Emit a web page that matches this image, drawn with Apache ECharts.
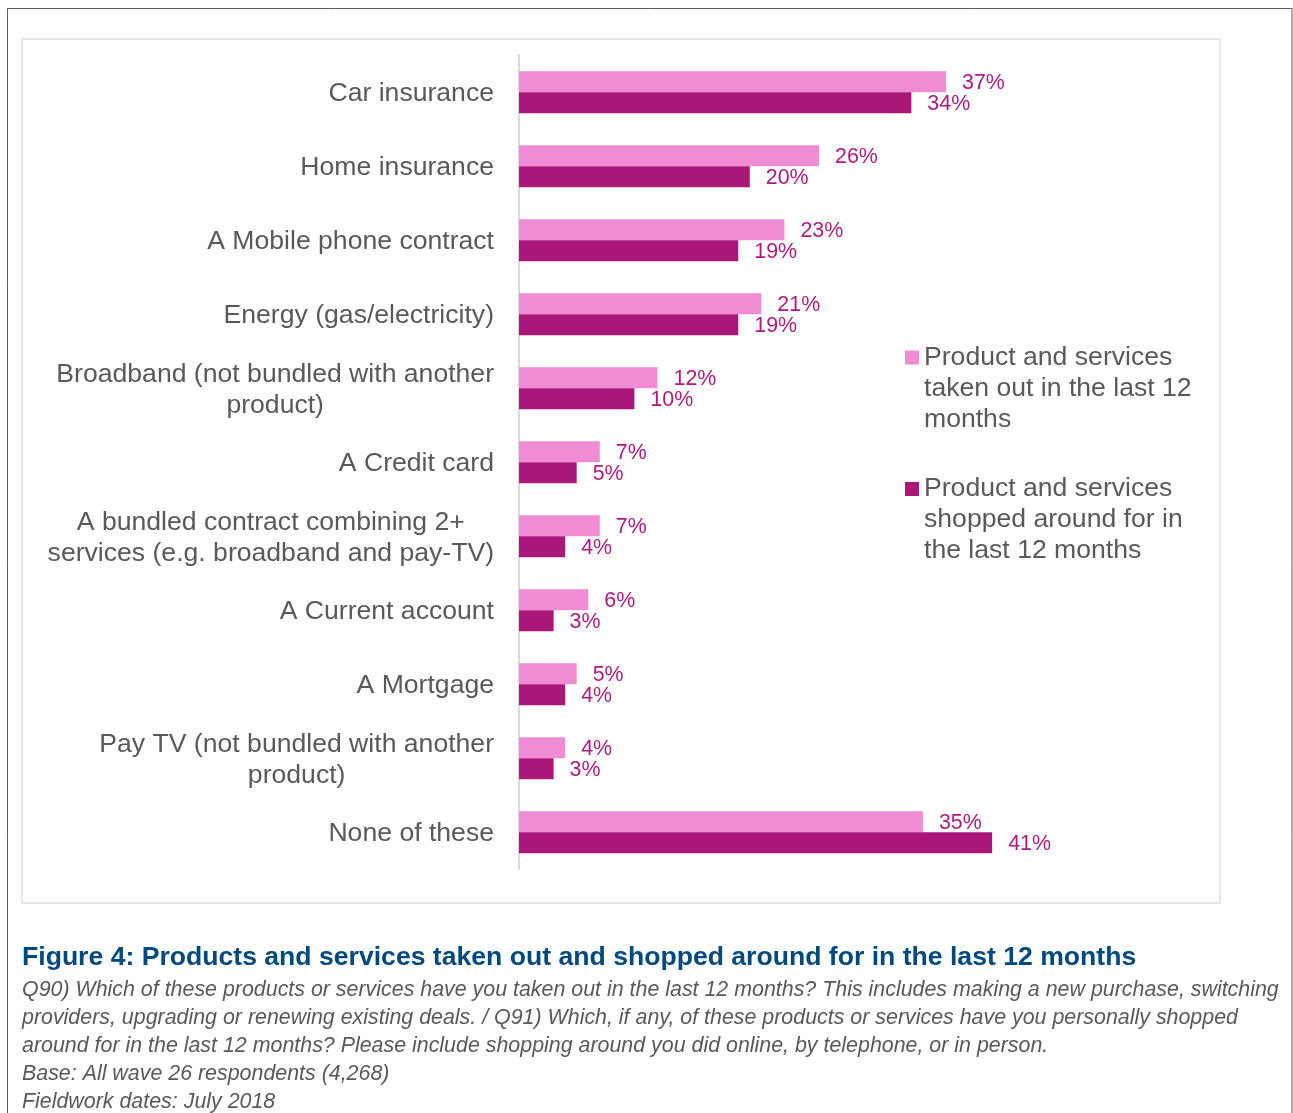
<!DOCTYPE html>
<html>
<head>
<meta charset="utf-8">
<script src="https://cdn.jsdelivr.net/npm/echarts@6/dist/echarts.min.js"></script>
<style>
  html, body { margin: 0; padding: 0; background: #ffffff; }
  #chart { width: 1293px; height: 1113px; }
</style>
</head>
<body>
<div id="chart"></div>
<script>
// Survey categories, top to bottom
const categories = [
  'Car insurance',
  'Home insurance',
  'A Mobile phone contract',
  'Energy (gas/electricity)',
  'Broadband (not bundled with another\nproduct)',
  'A Credit card',
  'A bundled contract combining 2+\nservices (e.g. broadband and pay-TV)',
  'A Current account',
  'A Mortgage',
  'Pay TV (not bundled with another\nproduct)',
  'None of these'
];

// Share of respondents (%)
const takenOut = [37, 26, 23, 21, 12, 7, 7, 6, 5, 4, 35];
const shoppedAround = [34, 20, 19, 19, 10, 5, 4, 3, 4, 3, 41];

const seriesNames = [
  'Product and services taken out in the last 12 months',
  'Product and services shopped around for in the last 12 months'
];
const legendLabels = [
  'Product and services\ntaken out in the last 12\nmonths',
  'Product and services\nshopped around for in\nthe last 12 months'
];

const figureTitle = 'Figure 4: Products and services taken out and shopped around for in the last 12 months';
const figureNotes = [
  'Q90) Which of these products or services have you taken out in the last 12 months? This includes making a new purchase, switching',
  'providers, upgrading or renewing existing deals. / Q91) Which, if any, of these products or services have you personally shopped',
  'around for in the last 12 months? Please include shopping around you did online, by telephone, or in person.',
  'Base: All wave 26 respondents (4,268)',
  'Fieldwork dates: July 2018'
];

const FONT = "'Liberation Sans', Arial, sans-serif";
const PINK = '#f08cd3';
const MAGENTA = '#ab1679';
const LABEL_COLOR = '#b0197e';
const TEXT_GREY = '#595959';

const chart = echarts.init(document.getElementById('chart'), null, { renderer: 'canvas' });

// Legend entries: the square sits beside the first text line, so the
// text block is padded with two blank lines above it (block is centred on the icon).
function legendFor(index, top) {
  return {
    data: [seriesNames[index]],
    orient: 'vertical',
    left: 905,
    top: top,
    padding: 0,
    icon: 'rect',
    itemWidth: 14,
    itemHeight: 14,
    selectedMode: false,
    formatter: () => '\n\n' + legendLabels[index],
    textStyle: {
      fontFamily: FONT,
      fontSize: 26.6,
      lineHeight: 31,
      color: TEXT_GREY
    }
  };
}

const barLabel = {
  show: true,
  position: 'right',
  distance: 16,
  offset: [0, 1.5],
  formatter: '{c}%',
  fontFamily: FONT,
  fontSize: 21.4,
  color: LABEL_COLOR
};

chart.setOption({
  animation: false,
  textStyle: { fontFamily: FONT },
  graphic: [
    {
      type: 'rect',
      shape: { x: 7.5, y: 8.5, width: 1284.5, height: 1130 },
      style: { fill: 'none', stroke: '#5a5a5a', lineWidth: 1 },
      silent: true, z: -10
    },
    {
      type: 'rect',
      shape: { x: 22, y: 39, width: 1198, height: 864 },
      style: { fill: 'none', stroke: '#e6e7e7', lineWidth: 2 },
      silent: true, z: -10
    }
  ],
  title: {
    text: figureTitle,
    subtext: figureNotes.join('\n'),
    left: 22,
    top: 943,
    padding: 0,
    itemGap: 3,
    textStyle: {
      fontFamily: FONT,
      fontSize: 26.6,
      fontWeight: 'bold',
      lineHeight: 30,
      color: '#00497f'
    },
    subtextStyle: {
      fontFamily: FONT,
      fontSize: 21.4,
      fontStyle: 'italic',
      lineHeight: 28,
      color: TEXT_GREY
    }
  },
  legend: [legendFor(0, 280), legendFor(1, 411.5)],
  grid: {
    left: 519,
    top: 55.3,
    width: 577,
    height: 814,
    containLabel: false
  },
  xAxis: {
    type: 'value',
    min: 0,
    max: 50,
    show: false
  },
  yAxis: {
    type: 'category',
    data: categories,
    inverse: true,
    axisTick: { show: false },
    axisLine: { show: true, lineStyle: { color: '#d9d9d9', width: 2 } },
    splitLine: { show: false },
    axisLabel: {
      margin: 25,
      padding: [3, 0, 0, 0],
      formatter: (value) => value.split('\n').map(line => '{c|' + line + '}').join('\n'),
      rich: {
        c: {
          align: 'center',
          fontFamily: FONT,
          fontSize: 26.6,
          lineHeight: 31,
          color: TEXT_GREY
        }
      }
    }
  },
  series: [
    {
      name: seriesNames[0],
      type: 'bar',
      data: takenOut,
      barWidth: 21,
      barGap: '0%',
      itemStyle: { color: PINK },
      label: barLabel,
      z: 3
    },
    {
      name: seriesNames[1],
      type: 'bar',
      data: shoppedAround,
      barWidth: 21,
      barGap: '0%',
      itemStyle: { color: MAGENTA },
      label: barLabel,
      z: 3
    }
  ]
});
</script>
</body>
</html>
